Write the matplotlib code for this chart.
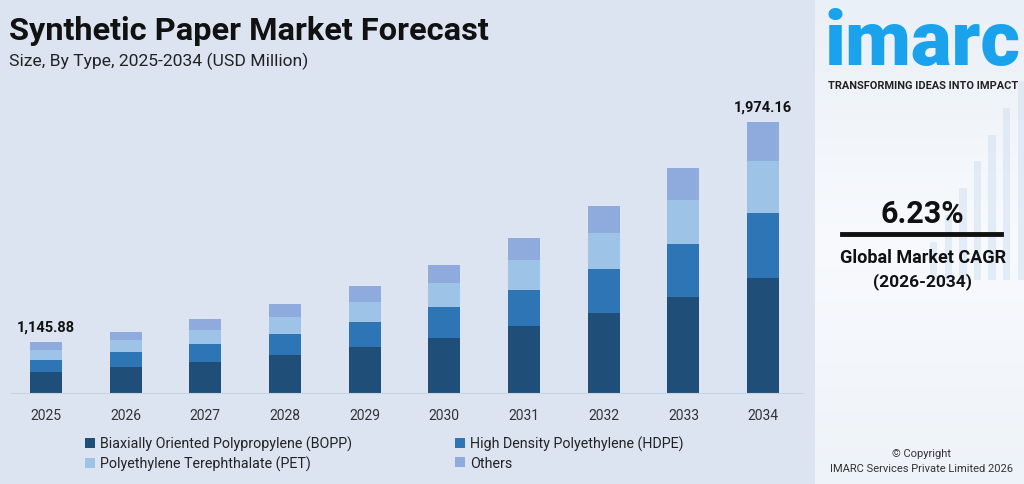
import numpy as np
import matplotlib.pyplot as plt
from matplotlib.patches import Rectangle
from matplotlib.colors import LinearSegmentedColormap

# bar segments (the chart has no value axis, only
# the first and last totals are printed)
years = ["2025", "2026", "2027", "2028", "2029", "2030", "2031", "2032", "2033", "2034"]
bopp = [21.3, 25.7, 30.7, 37.7, 45.7, 55.3, 66.7, 79.7, 96.3, 115.3]
hdpe = [12.0, 15.0, 18.6, 21.0, 25.0, 30.4, 36.6, 44.3, 53.0, 64.4]
pet = [10.0, 12.3, 13.7, 17.6, 20.6, 24.6, 29.7, 36.0, 43.7, 52.6]
others = [8.0, 8.3, 11.0, 12.4, 15.4, 18.0, 22.3, 26.7, 32.0, 38.4]
series_names = [
    "Biaxially Oriented Polypropylene (BOPP)",
    "High Density Polyethylene (HDPE)",
    "Polyethylene Terephthalate (PET)",
    "Others",
]
first_total = "1,145.88"
last_total = "1,974.16"
cagr = "6.23%"

colors = ["#1f4e79", "#2e75b6", "#9dc3e6", "#8faadc"]
bg = "#dce4f1"

plt.rcParams["font.family"] = ["Roboto", "DejaVu Sans"]

fig = plt.figure(figsize=(10.24, 4.85), dpi=100)
fig.patch.set_facecolor(bg)

# right hand panel, a pale stand-in for the photo behind the logo
panel = fig.add_axes([815 / 1024, 0, 209 / 1024, 1])
pale = LinearSegmentedColormap.from_list("pale", ["#eef3f9", "#f8fafd", "#eaf0f7"])
grad = np.linspace(0, 1, 256).reshape(-1, 1)
panel.imshow(grad, extent=[0, 1, 0, 1], aspect="auto", cmap=pale, origin="lower")
for k in range(7):
    panel.add_patch(Rectangle((0.55 + k * 0.07, 0.42), 0.035, 0.08 + k * 0.055,
                              color="#cfe0f1", alpha=0.5, lw=0))
panel.set_xlim(0, 1)
panel.set_ylim(0, 1)
panel.axis("off")

# bars
ax = fig.add_axes([0, (485 - 394) / 485, 815 / 1024, 294 / 485])
ax.set_facecolor("none")
x = np.arange(len(years))
bottom = np.zeros(len(years))
handles = []
for vals, name, c in zip([bopp, hdpe, pet, others], series_names, colors):
    h = ax.bar(x, vals, 0.4, bottom=bottom, color=c, label=name, edgecolor="none")
    handles.append(h)
    bottom += np.array(vals)

ax.set_xlim(-0.577, 9.652)
ax.set_ylim(0, bottom.max() * 1.086)
for s in ["top", "right", "left"]:
    ax.spines[s].set_visible(False)
ax.spines["bottom"].set_color("#c9d2e0")
ax.spines["bottom"].set_bounds(-0.45, 9.5)
ax.set_yticks([])
ax.set_xticks(x)
ax.set_xticklabels(years, fontsize=10, color="#333333")
ax.tick_params(axis="x", length=0, pad=11)

ax.annotate(first_total, (x[0], bottom[0]), xytext=(0, 6), textcoords="offset points",
            ha="center", va="bottom", fontsize=10.5, fontweight="bold", color="#111111")
ax.annotate(last_total, (x[-1], bottom[-1]), xytext=(0, 6), textcoords="offset points",
            ha="center", va="bottom", fontsize=10.5, fontweight="bold", color="#111111")

# legend fills by column, so order the handles to read row by row
order = [0, 2, 1, 3]
leg = fig.legend([handles[i] for i in order], [series_names[i] for i in order],
                 loc="upper left", bbox_to_anchor=(85 / 1024, 1 - 437 / 485), ncol=2,
                 frameon=False, fontsize=10.3, handlelength=0.7, handleheight=0.7,
                 handletextpad=0.35, columnspacing=7.2, labelspacing=0.3,
                 borderpad=0, borderaxespad=0)
for t in leg.get_texts():
    t.set_color("#222222")

fig.text(9 / 1024, 1 - 31 / 485, "Synthetic Paper Market Forecast", fontsize=23.4,
         fontweight="bold", color="#111111", va="center", ha="left")
fig.text(9 / 1024, 1 - 61 / 485, "Size, By Type, 2025-2034 (USD Million)", fontsize=12.6,
         color="#222222", va="center", ha="left")

# logo & CAGR
fig.text(923 / 1024, 1 - 44 / 485, "imarc", fontsize=55, fontweight="heavy",
         color="#1aa3ec", va="center", ha="center")
fig.text(923 / 1024, 1 - 86 / 485, "TRANSFORMING IDEAS INTO IMPACT", fontsize=7.9,
         fontweight="bold", color="#222222", va="center", ha="center")
fig.text(922 / 1024, 1 - 214 / 485, cagr, fontsize=22, fontweight="bold",
         color="#111111", va="center", ha="center")
fig.add_artist(plt.Line2D([842 / 1024, 1001 / 1024], [1 - 235 / 485] * 2,
                          color="#111111", lw=3.5))
fig.text(923 / 1024, 1 - 258 / 485, "Global Market CAGR", fontsize=13, fontweight="bold",
         color="#111111", va="center", ha="center")
fig.text(922 / 1024, 1 - 282 / 485, "(2026-2034)", fontsize=12.5, fontweight="bold",
         color="#111111", va="center", ha="center")
fig.text(922 / 1024, 1 - 454 / 485, "© Copyright", fontsize=8,
         color="#333333", va="center", ha="center")
fig.text(922 / 1024, 1 - 469 / 485, "IMARC Services Private Limited 2026", fontsize=8,
         color="#333333", va="center", ha="center")

fig.savefig("out.png", dpi=100, facecolor=fig.get_facecolor())
